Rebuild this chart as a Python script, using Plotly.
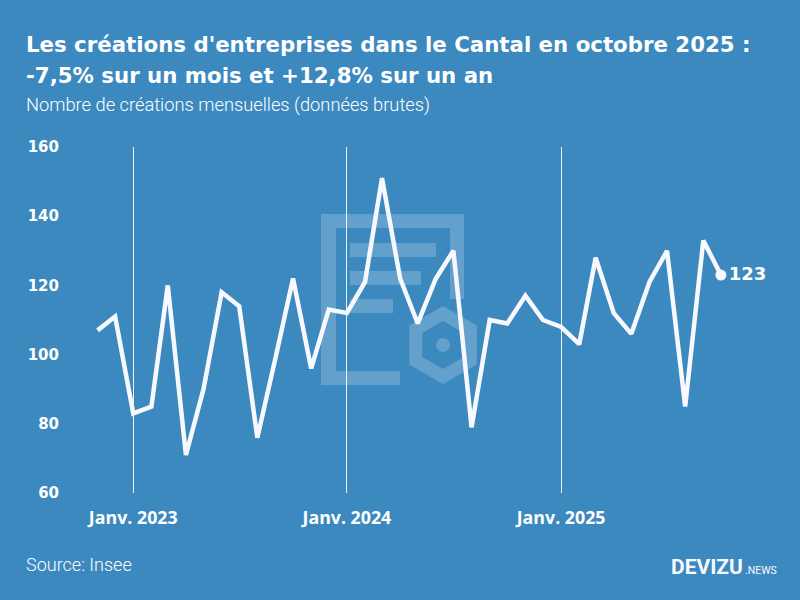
import math
import plotly.graph_objects as go

months = [
    "2022-11-01", "2022-12-01",
    "2023-01-01", "2023-02-01", "2023-03-01", "2023-04-01", "2023-05-01", "2023-06-01",
    "2023-07-01", "2023-08-01", "2023-09-01", "2023-10-01", "2023-11-01", "2023-12-01",
    "2024-01-01", "2024-02-01", "2024-03-01", "2024-04-01", "2024-05-01", "2024-06-01",
    "2024-07-01", "2024-08-01", "2024-09-01", "2024-10-01", "2024-11-01", "2024-12-01",
    "2025-01-01", "2025-02-01", "2025-03-01", "2025-04-01", "2025-05-01", "2025-06-01",
    "2025-07-01", "2025-08-01", "2025-09-01", "2025-10-01",
]
creations = [
    107, 111,
    83, 85, 120, 71, 90, 118, 114, 76, 99, 122, 96, 113,
    112, 121, 151, 122, 109, 122, 130, 79, 110, 109, 117, 110,
    108, 103, 128, 112, 106, 121, 130, 85, 133, 123,
]
tick_dates = ["2023-01-01", "2024-01-01", "2025-01-01"]
tick_labels = ["Janv. 2023", "Janv. 2024", "Janv. 2025"]
y_ticks = [60, 80, 100, 120, 140, 160]

BG = "#3c89c0"
W, H = 800, 600
L, R, T, B = 80, 20, 147, 107
PW, PH = W - L - R, H - T - B

TITLE_FONT = "DejaVu Sans, sans-serif"
TICK_FONT = "Open Sans, sans-serif"
BODY_FONT = "Roboto, sans-serif"
NUM_FONT = "DejaVu Sans, sans-serif"


def px(x):
    return (x - L) / PW


def py(y):
    return (H - B - y) / PH


fig = go.Figure()
fig.add_trace(go.Scatter(
    x=months, y=creations, mode="lines",
    line=dict(color="#f8f8ff", width=4.5),
    hoverinfo="skip", showlegend=False,
))
fig.add_trace(go.Scatter(
    x=[months[-1]], y=[creations[-1]], mode="markers+text",
    marker=dict(color="#f8f8ff", size=11),
    text=[str(creations[-1])], textposition="middle right",
    textfont=dict(family=NUM_FONT, size=18, color="white", weight="bold"),
    hoverinfo="skip", showlegend=False,
))

# watermark (document + hexagon)
WM = "rgba(255,255,255,0.2)"
doc = [(321, 214), (464, 214), (464, 299), (450, 299), (450, 228), (336, 228),
       (336, 371), (400, 371), (400, 385), (321, 385)]
path = "M " + " L ".join(f"{px(a):.5f},{py(b):.5f}" for a, b in doc) + " Z"
shapes = [dict(type="path", xref="paper", yref="paper", path=path,
               fillcolor=WM, line=dict(width=0), layer="below")]
for (x0, y0, x1, y1) in [(350, 243, 436, 257), (350, 271, 421, 285), (350, 299, 393, 313)]:
    shapes.append(dict(type="rect", xref="paper", yref="paper",
                       x0=px(x0), x1=px(x1), y0=py(y1), y1=py(y0),
                       fillcolor=WM, line=dict(width=0), layer="below"))
cx, cy = 443, 345


def hexpath(r):
    pts = []
    for k in range(6):
        a = math.radians(90 + 60 * k)
        pts.append((cx + r * math.cos(a), cy - r * math.sin(a)))
    return "M " + " L ".join(f"{px(a):.5f},{py(b):.5f}" for a, b in pts) + " Z"


shapes.append(dict(type="path", xref="paper", yref="paper",
                   path=hexpath(39) + " " + hexpath(24), fillrule="evenodd",
                   fillcolor=WM, line=dict(width=0), layer="below"))
shapes.append(dict(type="circle", xref="paper", yref="paper",
                   x0=px(cx - 7), x1=px(cx + 7), y0=py(cy + 7), y1=py(cy - 7),
                   fillcolor=WM, line=dict(width=0), layer="below"))

annotations = [
    dict(text="Les créations d'entreprises dans le Cantal en octobre 2025 :",
         x=px(24), y=py(44), xanchor="left", yanchor="middle",
         font=dict(family=TITLE_FONT, size=21.3, color="white", weight="bold")),
    dict(text="-7,5% sur un mois et +12,8% sur un an",
         x=px(24), y=py(75.5), xanchor="left", yanchor="middle",
         font=dict(family=TITLE_FONT, size=21.3, color="white", weight="bold")),
    dict(text="Nombre de créations mensuelles (données brutes)",
         x=px(24), y=py(105), xanchor="left", yanchor="middle",
         font=dict(family=BODY_FONT, size=18.3, color="white", weight=300)),
    dict(text="Source: Insee",
         x=px(24), y=py(564), xanchor="left", yanchor="middle",
         font=dict(family=BODY_FONT, size=18, color="white", weight=300)),
    dict(text="DEVIZU",
         x=px(745), y=py(567), xanchor="right", yanchor="middle",
         font=dict(family=BODY_FONT, size=21, color="#f8f8ff", weight="bold")),
    dict(text=".NEWS",
         x=px(743), y=py(570), xanchor="left", yanchor="middle",
         font=dict(family=BODY_FONT, size=10.5, color="#f8f8ff")),
]
for a in annotations:
    a.update(xref="paper", yref="paper", showarrow=False)

fig.update_layout(
    width=W, height=H,
    margin=dict(l=L, r=R, t=T, b=B),
    paper_bgcolor=BG, plot_bgcolor=BG,
    shapes=shapes, annotations=annotations,
    xaxis=dict(
        type="date", range=["2022-10-02", "2026-01-10"],
        tickvals=tick_dates, ticktext=tick_labels,
        showgrid=True, gridcolor="rgba(255,255,255,0.9)", gridwidth=1,
        showline=False, zeroline=False, ticks="",
        ticklabelstandoff=12,
        tickfont=dict(family=TICK_FONT, size=17.8, color="white", weight="bold"),
    ),
    yaxis=dict(
        range=[60, 160], tickvals=y_ticks,
        showgrid=False, showline=False, zeroline=False, ticks="",
        ticklabelstandoff=20,
        tickfont=dict(family=NUM_FONT, size=15, color="white", weight="bold"),
    ),
)

fig.write_html("out.html", config={"displayModeBar": False},
               post_script="document.body.style.margin='0';")
